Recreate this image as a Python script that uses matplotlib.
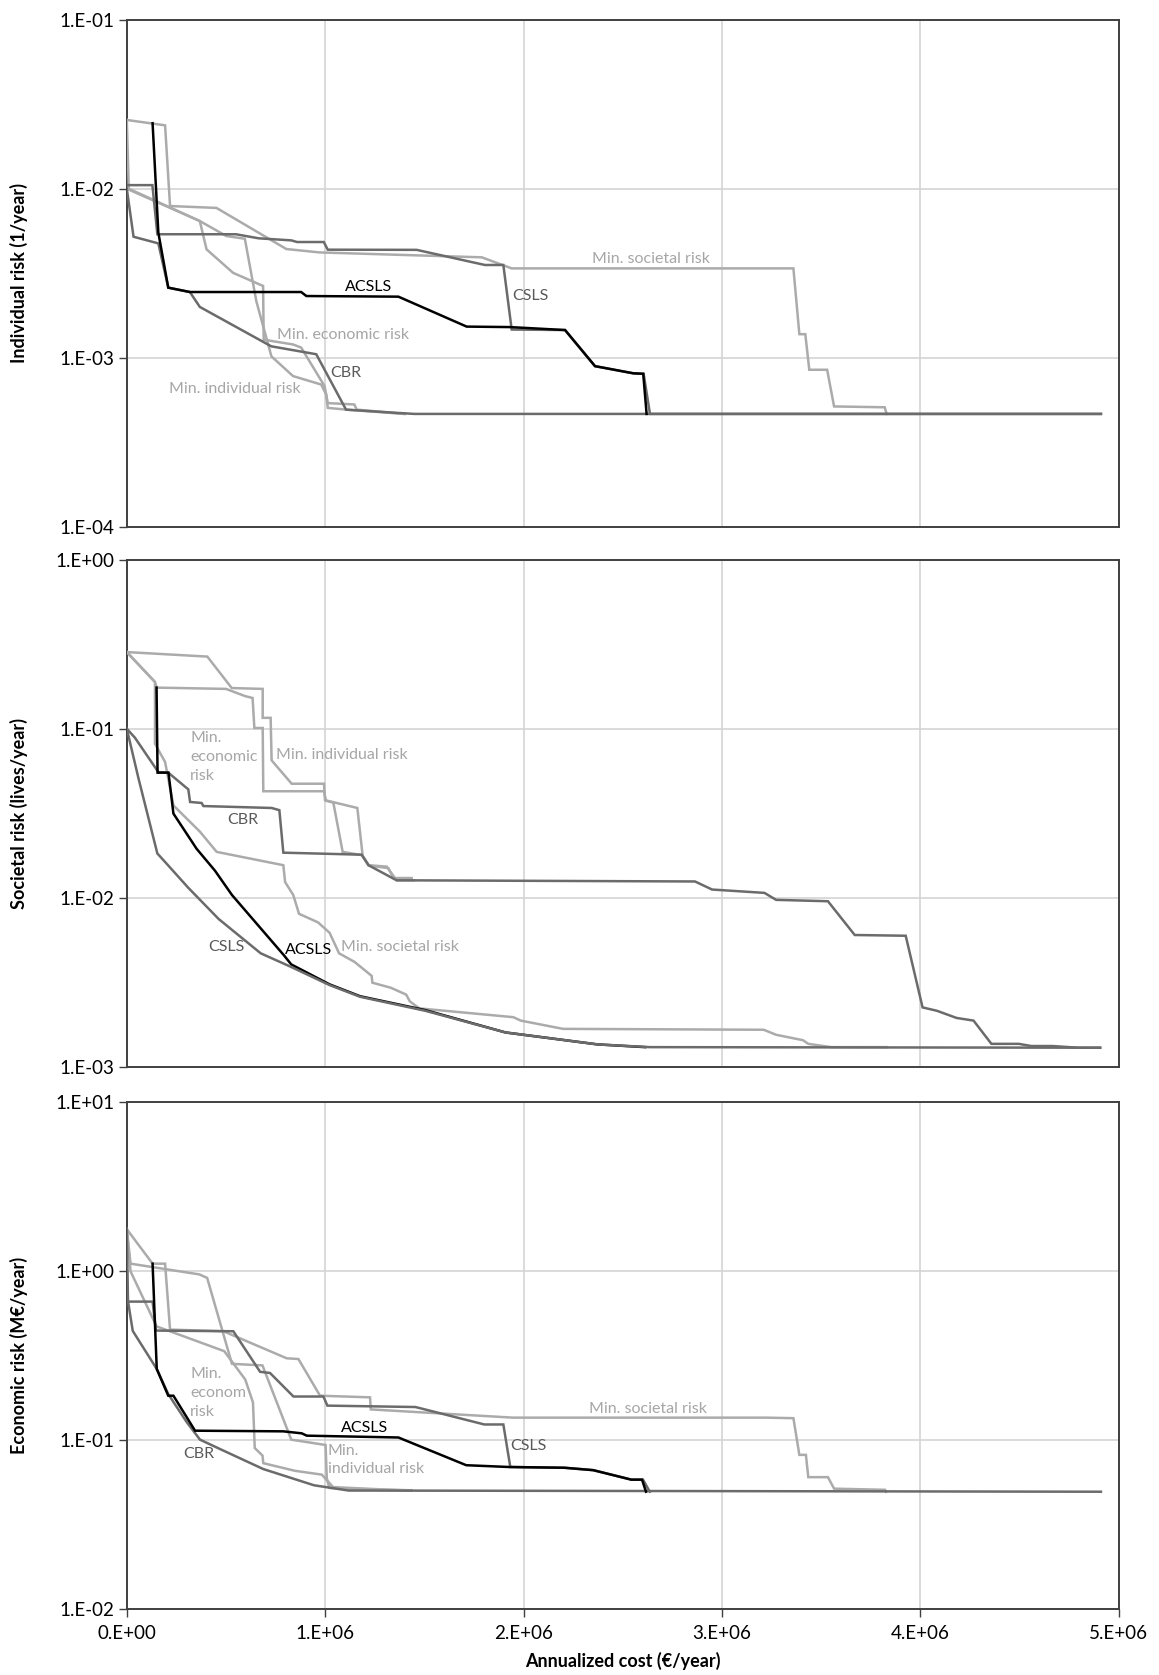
import numpy as np
import matplotlib
matplotlib.use("Agg")
import matplotlib.pyplot as plt
from matplotlib.ticker import FixedLocator, FuncFormatter, NullLocator

plt.rcParams['font.family'] = ['Lato', 'DejaVu Sans']

# x values in M€/year, y values in the units of each panel

# ---- individual risk (1/year) ----
ir_acsls_x = [0.13, 0.159, 0.209, 0.318, 0.879, 0.905, 1.369, 1.713, 1.931, 2.209, 2.36, 2.553, 2.603, 2.62]
ir_acsls_y = [2.44e-2, 5.5e-3, 2.6e-3, 2.45e-3, 2.45e-3, 2.32e-3, 2.3e-3, 1.53e-3, 1.52e-3, 1.46e-3, 8.93e-4, 8.1e-4, 8.05e-4, 4.66e-4]
ir_csls_x = [0, 0.129, 0.154, 0.550, 0.665, 0.829, 0.858, 0.993, 1.013, 1.461, 1.805, 1.898, 1.94, 2.209, 2.36, 2.553, 2.605, 2.637, 4.91]
ir_csls_y = [1.05e-2, 1.05e-2, 5.38e-3, 5.38e-3, 5.09e-3, 4.95e-3, 4.84e-3, 4.84e-3, 4.36e-3, 4.35e-3, 3.54e-3, 3.54e-3, 1.47e-3, 1.46e-3, 8.93e-4, 8.1e-4, 8.05e-4, 4.66e-4, 4.66e-4]
ir_cbr_x = [0, 0.034, 0.159, 0.209, 0.318, 0.368, 0.728, 0.955, 1.105, 1.357, 1.45, 4.91]
ir_cbr_y = [1e-2, 5.2e-3, 4.75e-3, 2.6e-3, 2.45e-3, 2.0e-3, 1.17e-3, 1.05e-3, 4.94e-4, 4.73e-4, 4.66e-4, 4.66e-4]
ir_mind_x = [0, 0.01, 0.368, 0.502, 0.595, 0.653, 0.729, 0.838, 0.980, 1.005, 1.013, 1.106, 1.4]
ir_mind_y = [2.55e-2, 1e-2, 6.44e-3, 5.25e-3, 5.06e-3, 2.16e-3, 1.02e-3, 7.8e-4, 6.95e-4, 6.07e-4, 5.06e-4, 4.94e-4, 4.66e-4]
ir_mecon_x = [0, 0.368, 0.402, 0.536, 0.687, 0.690, 0.838, 0.879, 0.997, 1.013, 1.147, 1.159, 1.4]
ir_mecon_y = [1e-2, 6.44e-3, 4.38e-3, 3.18e-3, 2.66e-3, 1.28e-3, 1.2e-3, 1.15e-3, 6.8e-4, 5.4e-4, 5.3e-4, 4.94e-4, 4.66e-4]
ir_msoc_x = [0, 0.193, 0.218, 0.452, 0.804, 0.972, 1.789, 1.94, 3.36, 3.39, 3.42, 3.44, 3.53, 3.565, 3.82, 3.83]
ir_msoc_y = [2.55e-2, 2.37e-2, 7.9e-3, 7.7e-3, 4.4e-3, 4.2e-3, 3.93e-3, 3.38e-3, 3.38e-3, 1.38e-3, 1.38e-3, 8.5e-4, 8.5e-4, 5.16e-4, 5.1e-4, 4.66e-4]

# ---- societal risk (lives/year) ----
sr_acsls_x = [0.150, 0.155, 0.21, 0.235, 0.352, 0.444, 0.53, 0.791, 0.829, 1.022, 1.176, 1.504, 1.909, 2.372, 2.613]
sr_acsls_y = [0.175, 0.055, 0.055, 0.0315, 0.0195, 0.0145, 0.0104, 4.59e-3, 4.04e-3, 3.08e-3, 2.62e-3, 2.17e-3, 1.6e-3, 1.36e-3, 1.31e-3]
sr_csls_x = [0, 0.058, 0.154, 0.193, 0.309, 0.463, 0.675, 0.829, 1.022, 1.176, 1.504, 1.909, 2.372, 2.637, 4.906]
sr_csls_y = [0.1, 0.0514, 0.0183, 0.0163, 0.0115, 7.5e-3, 4.7e-3, 3.9e-3, 3.05e-3, 2.6e-3, 2.15e-3, 1.6e-3, 1.36e-3, 1.31e-3, 1.3e-3]
sr_cbr_x = [0, 0.041, 0.159, 0.209, 0.31, 0.319, 0.377, 0.386, 0.73, 0.769, 0.789, 1.184, 1.218, 1.36, 2.864, 2.95,
            3.214, 3.273, 3.534, 3.669, 3.926, 4.011, 4.083, 4.182, 4.268, 4.358, 4.496, 4.559, 4.667, 4.793, 4.906]
sr_cbr_y = [0.1, 0.0885, 0.0554, 0.055, 0.0438, 0.0369, 0.0364, 0.0349, 0.034, 0.033, 0.0185, 0.018, 0.0156, 0.0127, 0.0125, 0.0112,
            0.0107, 9.73e-3, 9.55e-3, 6.03e-3, 5.97e-3, 2.25e-3, 2.15e-3, 1.95e-3, 1.88e-3, 1.37e-3, 1.37e-3, 1.33e-3, 1.33e-3, 1.3e-3, 1.3e-3]
sr_mind_x = [0, 0.406, 0.529, 0.685, 0.685, 0.725, 0.73, 0.831, 0.994, 0.999, 1.162, 1.189, 1.218, 1.31, 1.36, 1.446]
sr_mind_y = [0.284, 0.267, 0.174, 0.172, 0.116, 0.116, 0.065, 0.0473, 0.0473, 0.0378, 0.034, 0.0177, 0.0156, 0.0153, 0.0127, 0.0127]
sr_mecon_x = [0, 0.142, 0.151, 0.50, 0.596, 0.634, 0.643, 0.685, 0.688, 0.994, 1.004, 1.041, 1.088, 1.184, 1.222, 1.318, 1.344, 1.436]
sr_mecon_y = [0.284, 0.189, 0.175, 0.172, 0.156, 0.152, 0.101, 0.101, 0.0427, 0.0427, 0.0375, 0.0366, 0.0187, 0.0179, 0.0155, 0.015, 0.0131, 0.0131]
sr_msoc_x = [0, 0.142, 0.142, 0.193, 0.235, 0.369, 0.453, 0.789, 0.798, 0.839, 0.868, 0.964, 1.022, 1.07, 1.148, 1.234, 1.238,
             1.331, 1.408, 1.427, 1.475, 1.948, 1.986, 2.199, 3.21, 3.273, 3.408, 3.435, 3.552, 3.83]
sr_msoc_y = [0.284, 0.189, 0.0815, 0.0636, 0.0352, 0.0246, 0.0187, 0.0156, 0.0124, 0.0104, 8.05e-3, 7.16e-3, 6.22e-3, 4.7e-3, 4.18e-3, 3.46e-3, 3.15e-3,
             2.94e-3, 2.68e-3, 2.44e-3, 2.22e-3, 1.97e-3, 1.88e-3, 1.68e-3, 1.66e-3, 1.55e-3, 1.44e-3, 1.37e-3, 1.31e-3, 1.31e-3]

# ---- economic risk (M€/year) ----
er_acsls_x = [0.13, 0.151, 0.209, 0.235, 0.344, 0.789, 0.882, 0.907, 1.369, 1.711, 1.927, 2.206, 2.351, 2.543, 2.597, 2.617]
er_acsls_y = [1.1, 0.262, 0.182, 0.182, 0.113, 0.112, 0.109, 0.1056, 0.103, 0.0706, 0.0689, 0.0682, 0.066, 0.058, 0.058, 0.0492]
er_csls_x = [0, 0.13, 0.147, 0.537, 0.672, 0.722, 0.84, 0.991, 1.011, 1.455, 1.802, 1.898, 1.933, 2.206, 2.351, 2.543, 2.602, 2.636]
er_csls_y = [0.656, 0.656, 0.442, 0.438, 0.252, 0.248, 0.18, 0.18, 0.159, 0.156, 0.123, 0.123, 0.0689, 0.0682, 0.066, 0.058, 0.058, 0.0492]
er_cbr_x = [0, 0.006, 0.03, 0.151, 0.209, 0.302, 0.369, 0.47, 0.688, 0.944, 1.118, 4.91]
er_cbr_y = [1.76, 0.66, 0.44, 0.262, 0.186, 0.127, 0.1, 0.088, 0.067, 0.0537, 0.05, 0.0492]
er_mind_x = [0, 0.019, 0.366, 0.405, 0.53, 0.684, 0.697, 0.829, 1.002, 1.008, 1.021, 1.137, 1.272, 1.435]
er_mind_y = [1.76, 1.1, 0.95, 0.906, 0.281, 0.275, 0.251, 0.1, 0.093, 0.059, 0.0518, 0.0512, 0.0505, 0.0502]
er_mecon_x = [0, 0.019, 0.15, 0.491, 0.597, 0.636, 0.645, 0.684, 0.688, 0.848, 0.983, 1.04, 1.252, 1.435]
er_mecon_y = [1.76, 0.99, 0.468, 0.334, 0.227, 0.166, 0.0892, 0.0805, 0.0726, 0.0654, 0.0621, 0.0524, 0.051, 0.05]
er_msoc_x = [0, 0.13, 0.193, 0.218, 0.487, 0.806, 0.865, 0.974, 1.226, 1.23, 1.946, 3.22, 3.36, 3.39, 3.423, 3.435, 3.534, 3.565, 3.822, 3.827]
er_msoc_y = [1.76, 1.1, 1.1, 0.448, 0.438, 0.303, 0.3, 0.182, 0.178, 0.151, 0.135, 0.135, 0.134, 0.0813, 0.0813, 0.06, 0.06, 0.0513, 0.0505, 0.0492]

ylabels = ['Individual risk (1/year)', 'Societal risk (lives/year)', 'Economic risk (M€/year)']
ylims = [(1e-4, 1e-1), (1e-3, 1e0), (1e-2, 1e1)]

BLACK = '#000000'
DARK = '#6b6b6b'
LIGHT = '#ababab'
DARK_TXT = '#595959'
LIGHT_TXT = '#a6a6a6'


def sci_fmt(v, pos=None):
    if v <= 0:
        return '0.E+00'
    e = int(np.floor(np.log10(v) + 1e-9))
    m = v / 10 ** e
    return f'{m:.0f}.E{e:+03d}'


fig = plt.figure(figsize=(11.59, 16.75), dpi=100)
boxes = [[0.1094, 0.6854, 0.8559, 0.3029],
         [0.1094, 0.3630, 0.8559, 0.3029],
         [0.1094, 0.0396, 0.8559, 0.3027]]
axes = [fig.add_axes(b) for b in boxes]

# drawing order: light "Min." lines first, then CBR / CSLS / ACSLS
panels = [
    [(ir_mind_x, ir_mind_y, LIGHT), (ir_mecon_x, ir_mecon_y, LIGHT), (ir_msoc_x, ir_msoc_y, LIGHT),
     (ir_cbr_x, ir_cbr_y, DARK), (ir_csls_x, ir_csls_y, DARK), (ir_acsls_x, ir_acsls_y, BLACK)],
    [(sr_mind_x, sr_mind_y, LIGHT), (sr_mecon_x, sr_mecon_y, LIGHT), (sr_msoc_x, sr_msoc_y, LIGHT),
     (sr_cbr_x, sr_cbr_y, DARK), (sr_acsls_x, sr_acsls_y, BLACK), (sr_csls_x, sr_csls_y, DARK)],
    [(er_mind_x, er_mind_y, LIGHT), (er_mecon_x, er_mecon_y, LIGHT), (er_msoc_x, er_msoc_y, LIGHT),
     (er_cbr_x, er_cbr_y, DARK), (er_csls_x, er_csls_y, DARK), (er_acsls_x, er_acsls_y, BLACK)],
]

for i, ax in enumerate(axes):
    for xs, ys, c in panels[i]:
        ax.plot(np.array(xs) * 1e6, ys, color=c, lw=1.8, zorder=3, solid_joinstyle='miter')
    ax.set_yscale('log')
    ax.set_xlim(0, 5e6)
    ax.set_ylim(*ylims[i])
    lo, hi = np.log10(ylims[i])
    ax.yaxis.set_major_locator(FixedLocator(10.0 ** np.arange(lo, hi + 1)))
    ax.yaxis.set_minor_locator(NullLocator())
    ax.yaxis.set_major_formatter(FuncFormatter(sci_fmt))
    ax.xaxis.set_major_locator(FixedLocator(np.arange(0, 5.1e6, 1e6)))
    ax.xaxis.set_major_formatter(FuncFormatter(sci_fmt))
    ax.grid(True, color='#d4d4d4', lw=1.2, zorder=0)
    ax.set_axisbelow(True)
    for s in ax.spines.values():
        s.set_color('#404040')
        s.set_linewidth(1.4)
    ax.tick_params(axis='y', direction='out', length=6, width=1, color='#404040', labelsize=13.5, pad=3)
    ax.tick_params(axis='x', direction='out', length=6, width=1, color='#404040', labelsize=13.5, pad=6)
    ax.set_ylabel(ylabels[i], fontsize=13, fontweight='bold')
    ax.yaxis.set_label_coords(-0.0996, 0.5)
    if i < 2:
        ax.tick_params(axis='x', length=0, labelbottom=False)

axes[2].set_xlabel('Annualized cost (€/year)', fontsize=13, fontweight='bold')
axes[2].xaxis.set_label_coords(0.5, -0.085)

fs = 11.5
# top panel labels
a = axes[0]
a.text(1.216e6, 2.62e-3, 'ACSLS', color=BLACK, fontsize=fs, ha='center', va='center', zorder=2)
a.text(1.942e6, 2.32e-3, 'CSLS', color=DARK_TXT, fontsize=fs, ha='left', va='center', zorder=2)
a.text(2.344e6, 3.84e-3, 'Min. societal risk', color=LIGHT_TXT, fontsize=fs, ha='left', va='center', zorder=2)
a.text(0.756e6, 1.37e-3, 'Min. economic risk', color=LIGHT_TXT, fontsize=fs, ha='left', va='center', zorder=2)
a.text(1.028e6, 8.13e-4, 'CBR', color=DARK_TXT, fontsize=fs, ha='left', va='center', zorder=2)
a.text(0.213e6, 6.55e-4, 'Min. individual risk', color=LIGHT_TXT, fontsize=fs, ha='left', va='center', zorder=2)

# middle panel labels
a = axes[1]
a.text(0.319e6, 0.068, 'Min.\neconomic\nrisk', color=LIGHT_TXT, fontsize=fs, ha='left', va='center', linespacing=1.45, zorder=2)
a.text(0.752e6, 0.0699, 'Min. individual risk', color=LIGHT_TXT, fontsize=fs, ha='left', va='center', zorder=2)
a.text(0.507e6, 0.029, 'CBR', color=DARK_TXT, fontsize=fs, ha='left', va='center', zorder=2)
a.text(0.409e6, 5.12e-3, 'CSLS', color=DARK_TXT, fontsize=fs, ha='left', va='center', zorder=2)
a.text(0.795e6, 4.93e-3, 'ACSLS', color=BLACK, fontsize=fs, ha='left', va='center', zorder=2)
a.text(1.08e6, 5.09e-3, 'Min. societal risk', color=LIGHT_TXT, fontsize=fs, ha='left', va='center', zorder=2)

# bottom panel labels
a = axes[2]
a.text(0.319e6, 0.19, 'Min.\neconom\nrisk', color=LIGHT_TXT, fontsize=fs, ha='left', va='center', linespacing=1.45, zorder=2)
a.text(1.08e6, 0.118, 'ACSLS', color=BLACK, fontsize=fs, ha='left', va='center', zorder=2)
a.text(1.934e6, 0.0912, 'CSLS', color=DARK_TXT, fontsize=fs, ha='left', va='center', zorder=2)
a.text(2.328e6, 0.152, 'Min. societal risk', color=LIGHT_TXT, fontsize=fs, ha='left', va='center', zorder=2)
a.text(0.285e6, 0.0822, 'CBR', color=DARK_TXT, fontsize=fs, ha='left', va='center', zorder=2)
a.text(1.013e6, 0.0758, 'Min.\nindividual risk', color=LIGHT_TXT, fontsize=fs, ha='left', va='center', linespacing=1.3, zorder=2)

fig.savefig('out.png', dpi=100)
